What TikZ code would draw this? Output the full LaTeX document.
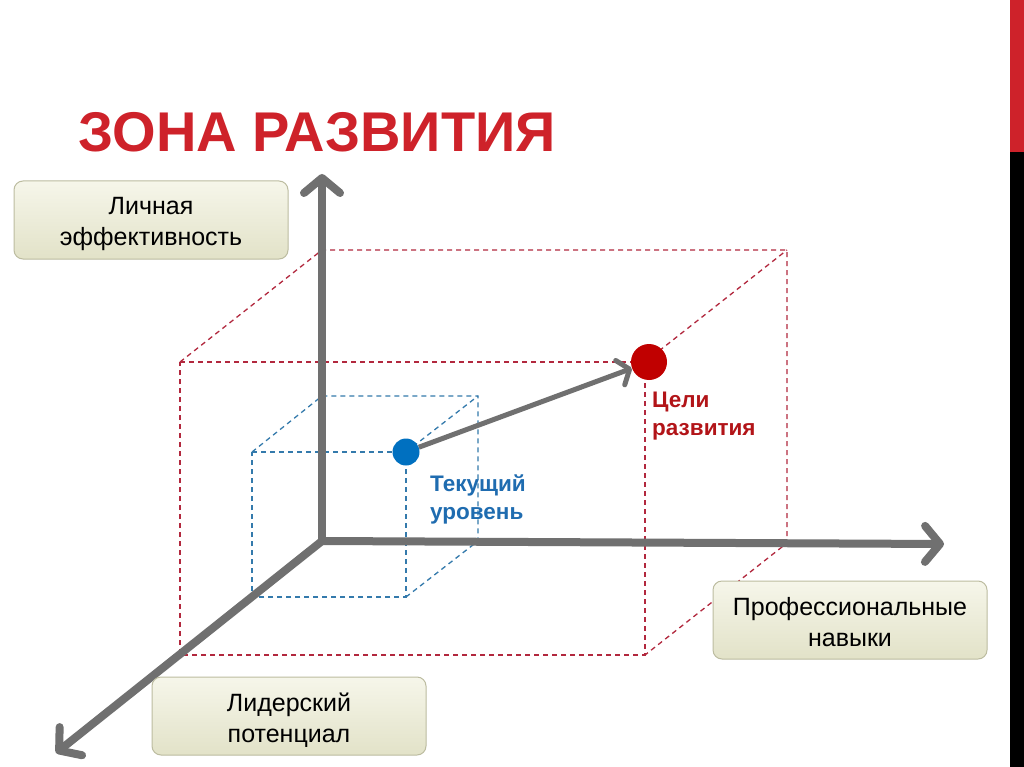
\documentclass[tikz,border=0pt]{standalone}
\usepackage{fontspec}
\setmainfont{Liberation Sans}
\usetikzlibrary{arrows.meta}

\definecolor{titlered}{RGB}{206,34,42}
\definecolor{axisgray}{RGB}{112,112,112}
\definecolor{dashred}{RGB}{178,40,62}
\definecolor{dashblue}{RGB}{52,122,172}
\definecolor{dotred}{RGB}{192,0,0}
\definecolor{dotblue}{RGB}{0,112,192}
\definecolor{txtblue}{RGB}{31,108,176}
\definecolor{txtred}{RGB}{178,20,24}
\definecolor{boxtop}{RGB}{246,246,234}
\definecolor{boxbot}{RGB}{226,226,200}
\definecolor{boxline}{RGB}{188,188,160}

\begin{document}
\begin{tikzpicture}[x=1pt,y=-1pt,
  axis/.style={draw=axisgray,line width=8pt,-{Straight Barb[length=15pt,width=36pt,round]}},
  link/.style={draw=axisgray,line width=5pt,-{Straight Barb[length=10pt,width=26pt,round]}},
  redline/.style={draw=dashred,line width=1.3pt,dash pattern=on 5pt off 4pt},
  blueline/.style={draw=dashblue,line width=1.3pt,dash pattern=on 5pt off 4pt},
  box/.style={rounded corners=9pt,draw=boxline,line width=1pt,top color=boxtop,bottom color=boxbot,
    minimum width=274pt,minimum height=78pt},
  boxtxt/.style={align=center,inner sep=0pt,font=\fontsize{25}{31}\selectfont},
  lbl/.style={anchor=north west,inner sep=0pt,align=left,font=\fontsize{22.5}{28}\selectfont\bfseries}]
  \useasboundingbox (0,0) rectangle (1024,767);
  \fill[white] (0,0) rectangle (1024,767);
  % side bar
  \fill[titlered] (1010,0) rectangle (1024,152);
  \fill[black] (1010,152) rectangle (1024,767);

  \node[anchor=base west,inner sep=0pt,text=titlered,font=\fontsize{56}{60}\selectfont\bfseries] (title) at (78,152) {ЗОНА РАЗВИТИЯ};

  % corners of the two boxes
  \coordinate (o) at (322,541);
  \coordinate (r1) at (180,362);  \coordinate (r2) at (645,362);
  \coordinate (r3) at (645,655);  \coordinate (r4) at (180,655);
  \coordinate (r5) at (322,250);  \coordinate (r6) at (787,250);
  \coordinate (r7) at (787,543);
  \coordinate (b1) at (252,452);  \coordinate (b2) at (406,452);
  \coordinate (b3) at (406,597);  \coordinate (b4) at (252,597);
  \coordinate (b5) at (322,396);  \coordinate (b6) at (478,396);
  \coordinate (b7) at (478,541);

  \draw[redline] (r1) -- (r2) -- (r3) -- (r4) -- cycle;
  \draw[redline] (r1) -- (r5) -- (r6) -- (r7) -- (r3);
  \draw[redline] (r2) -- (r6);
  \draw[redline] (r4) -- (o);
  \draw[blueline] (b1) -- (b2) -- (b3) -- (b4) -- cycle;
  \draw[blueline] (b1) -- (b5) -- (b6) -- (b7) -- (b3);
  \draw[blueline] (b2) -- (b6);

  % axes
  \coordinate (ytip) at (322,174);
  \coordinate (xtip) at (944,544);
  \coordinate (ztip) at (56,753);
  \draw[axis] (o) -- (ytip);
  \draw[axis] (o) -- (xtip);
  \draw[axis] (o) -- (ztip);

  \node[box] (eff) at (151,220) {};
  \node[box] (prof) at (850,620) {};
  \node[box] (lead) at (289,716) {};
  \node[boxtxt] (efftxt) at ([yshift=-4pt]eff.center) {Личная\\эффективность};
  \node[boxtxt] (proftxt) at ([yshift=-2pt]prof.center) {Профессиональные\\навыки};
  \node[boxtxt] (leadtxt) at ([yshift=-4pt]lead.center) {Лидерский\\потенциал};

  \node[circle,fill=dotblue,minimum size=27pt,inner sep=0pt] (cur) at (b2) {};
  \node[circle,fill=dotred,minimum size=36pt,inner sep=0pt] (goal) at (649,362) {};
  \draw[link] (cur) -- (goal);

  \node[lbl,text=txtblue] (curlbl) at (430,475) {Текущий\\уровень};
  \node[lbl,text=txtred] (goallbl) at (652,392) {Цели\\развития};
\end{tikzpicture}
\end{document}
